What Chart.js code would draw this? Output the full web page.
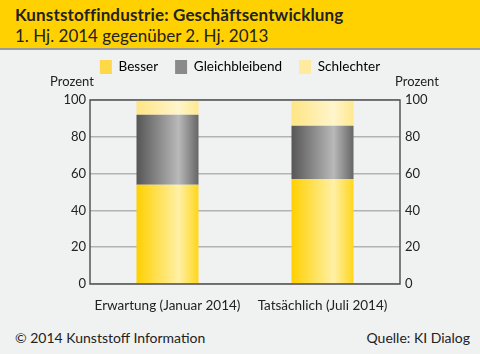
<!DOCTYPE html>
<html lang="de">
<head>
<meta charset="UTF-8">
<script src="https://cdn.jsdelivr.net/npm/chart.js"></script>
<title>Kunststoffindustrie</title>
<style>
    body { margin: 0; width: 480px; height: 354px; background: #f0f1f1; font-family: Lato, sans-serif; color: #222; position: relative; overflow: hidden; }
    .kopf { height: 48px; background: #ffd100; border-bottom: 2px solid #9a9a9a; padding-left: 15px; box-sizing: content-box; }
    .kopf h1 { margin: 0; padding-top: 5px; font-size: 17px; font-weight: bold; line-height: 20px; letter-spacing: 0.15px; }
    .kopf h2 { margin: 0; font-size: 17px; font-weight: normal; line-height: 21px; }
    .diagramm { position: absolute; left: 0; top: 43px; width: 480px; height: 277px; }
    .fuss { position: absolute; top: 329px; font-size: 14px; }
</style>
</head>
<body>
<div class="kopf">
    <h1>Kunststoffindustrie: Geschäftsentwicklung</h1>
    <h2>1. Hj. 2014 gegenüber 2. Hj. 2013</h2>
</div>
<div class="diagramm"><canvas id="grafik"></canvas></div>
<div class="fuss" style="left:15px">© 2014 Kunststoff Information</div>
<div class="fuss" style="right:10px">Quelle: KI Dialog</div>

<script>
    // Daten
    const kategorien = ["Erwartung (Januar 2014)", "Tatsächlich (Juli 2014)"];
    const besser = [54, 57];
    const gleichbleibend = [38, 29];
    const schlechter = [8, 14];
    const yTicks = [0, 20, 40, 60, 80, 100];

    const BALKEN = 0.4;

    // horizontaler Verlauf je Balken
    function verlauf(farben) {
        return function (ctx) {
            const chart = ctx.chart;
            const xs = chart.scales.x;
            if (!chart.chartArea || !xs || ctx.dataIndex === undefined) return farben[0];
            const cx = xs.getPixelForValue(ctx.dataIndex);
            const w = xs.width / kategorien.length * BALKEN;
            const g = chart.ctx.createLinearGradient(cx - w / 2, 0, cx + w / 2, 0);
            g.addColorStop(0, farben[0]);
            g.addColorStop(0.68, farben[1]);
            g.addColorStop(1, farben[2]);
            return g;
        };
    }

    // Platz unter der Legende
    const legendenAbstand = {
        id: 'legendenAbstand',
        beforeUpdate(chart) {
            const lg = chart.legend;
            if (lg && !lg._gepatcht) {
                const fit = lg.fit;
                lg.fit = function () { fit.call(this); this.height += 16; };
                lg._gepatcht = true;
            }
        }
    };

    // Rahmen + "Prozent"
    const rahmen = {
        id: 'rahmen',
        afterDatasetsDraw(chart) {
            const a = chart.chartArea;
            const c = chart.ctx;
            c.save();
            c.strokeStyle = '#555';
            c.lineWidth = 1.5;
            c.strokeRect(a.left, a.top, a.right - a.left, a.bottom - a.top);
            c.fillStyle = '#222';
            c.font = '13px Lato';
            c.textAlign = 'center';
            c.textBaseline = 'middle';
            c.fillText('Prozent', 72, a.top - 18);
            c.fillText('Prozent', 417, a.top - 18);
            c.restore();
        }
    };

    const tickFont = { family: 'Lato', size: 13 };
    const textFont = { family: 'Lato', size: 13.5 };

    new Chart(document.getElementById('grafik'), {
        type: 'bar',
        data: {
            labels: kategorien,
            datasets: [
                { label: 'Besser', data: besser, backgroundColor: verlauf(['#ffd000', '#fff0a6', '#ffd61c']) },
                { label: 'Gleichbleibend', data: gleichbleibend, backgroundColor: verlauf(['#565656', '#b9b9b9', '#666666']) },
                { label: 'Schlechter', data: schlechter, backgroundColor: verlauf(['#ffe584', '#fff5cc', '#ffe88e']) }
            ]
        },
        options: {
            responsive: true,
            maintainAspectRatio: false,
            animation: false,
            datasets: { bar: { barPercentage: BALKEN, categoryPercentage: 1 } },
            plugins: {
                tooltip: { enabled: false },
                legend: {
                    labels: {
                        color: '#222',
                        font: textFont,
                        boxWidth: 12,
                        boxHeight: 14,
                        padding: 17,
                        generateLabels() {
                            const f = ['#ffd84a', '#8a8a8a', '#ffeaa0'];
                            return ['Besser', 'Gleichbleibend', 'Schlechter'].map((t, i) => ({
                                text: t, fillStyle: f[i], strokeStyle: f[i], lineWidth: 0, datasetIndex: i
                            }));
                        }
                    }
                }
            },
            scales: {
                x: {
                    stacked: true,
                    grid: { display: false },
                    border: { display: false },
                    ticks: { color: '#222', font: textFont, padding: 6 },
                    afterFit(s) { s.height = 36; }
                },
                y: {
                    stacked: true,
                    min: 0, max: 100,
                    afterBuildTicks(s) { s.ticks = yTicks.map(v => ({ value: v })); },
                    grid: { color: '#b3b3b3', lineWidth: 1.5, drawTicks: false },
                    border: { display: false },
                    ticks: { color: '#222', font: tickFont, padding: 4 },
                    afterFit(s) { s.width = 90; }
                },
                y2: {
                    position: 'right',
                    min: 0, max: 100,
                    afterBuildTicks(s) { s.ticks = yTicks.map(v => ({ value: v })); },
                    grid: { display: false, drawTicks: false },
                    border: { display: false },
                    ticks: { color: '#222', font: tickFont, padding: 5 },
                    afterFit(s) { s.width = 80; }
                }
            }
        },
        plugins: [legendenAbstand, rahmen]
    });
</script>
</body>
</html>
